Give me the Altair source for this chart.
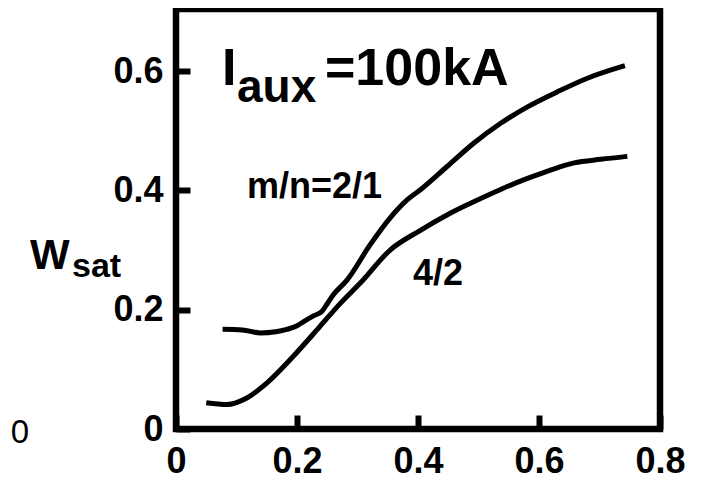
import altair as alt
import pandas as pd

# --- data ---
x_21 = [0.077, 0.110, 0.139, 0.165, 0.183, 0.200, 0.211, 0.228, 0.241, 0.250, 0.260,
        0.283, 0.321, 0.354, 0.382, 0.404, 0.448, 0.492, 0.536, 0.581, 0.630, 0.680, 0.742]
y_21 = [0.167, 0.166, 0.161, 0.163, 0.167, 0.173, 0.180, 0.190, 0.197, 0.210, 0.225,
        0.250, 0.309, 0.354, 0.384, 0.401, 0.440, 0.479, 0.512, 0.540, 0.565, 0.588, 0.609]

x_42 = [0.050, 0.084, 0.117, 0.150, 0.194, 0.238, 0.272, 0.305, 0.354, 0.404, 0.454,
        0.503, 0.542, 0.581, 0.619, 0.658, 0.702, 0.746]
y_42 = [0.044, 0.041, 0.052, 0.077, 0.122, 0.172, 0.211, 0.245, 0.300, 0.333, 0.362,
        0.386, 0.404, 0.420, 0.434, 0.446, 0.452, 0.457]

x_ticks = [0, 0.2, 0.4, 0.6, 0.8]
y_ticks = [0, 0.2, 0.4, 0.6]
x_domain = [0, 0.8]
y_domain = [0, 0.704]

W, H = 484, 420
FONT = "Liberation Sans"

df = pd.concat([
    pd.DataFrame({"x": x_21, "y": y_21, "series": "2/1"}),
    pd.DataFrame({"x": x_42, "y": y_42, "series": "4/2"}),
])

label_expr = "datum.value == 0 ? '0' : format(datum.value, '.1f')"

axis_common = dict(
    domain=False, grid=False, ticks=True, tickSize=14, tickWidth=6,
    tickColor="black", offset=-14, labelFont=FONT, labelFontSize=36,
    labelFontWeight="bold", labelColor="black", labelOverlap=False,
    labelFlush=False, labelExpr=label_expr, title=None,
)

lines = alt.Chart(df).mark_line(color="black", strokeWidth=5, interpolate="monotone").encode(
    x=alt.X("x:Q", scale=alt.Scale(domain=x_domain, nice=False, zero=False),
            axis=alt.Axis(values=x_ticks, labelPadding=15, **axis_common)),
    y=alt.Y("y:Q", scale=alt.Scale(domain=y_domain, nice=False, zero=False),
            axis=alt.Axis(values=y_ticks, labelPadding=13, **axis_common)),
    detail="series:N",
)


def annot(text, x, y, size, weight="bold", align="left"):
    return alt.Chart(pd.DataFrame({"t": [text]})).mark_text(
        font=FONT, fontSize=size, fontWeight=weight, align=align,
        baseline="alphabetic", color="black",
    ).encode(x=alt.value(x), y=alt.value(y), text="t:N")


layers = [
    lines,
    annot("W", -146, 260, 42),
    annot("sat", -104, 268, 34),
    annot("I", 46, 76, 52),
    annot("aux", 61, 93, 46),
    annot("=100kA", 149, 76, 52),
    annot("m/n=2/1", 71, 189, 36),
    annot("4/2", 237, 276, 36),
    annot("0", -147, 434, 33, weight="normal", align="right"),
]

chart = alt.layer(*layers).properties(
    width=W, height=H,
    autosize=alt.AutoSizeParams(type="none"),
    padding={"left": 168, "top": 1, "right": 30, "bottom": 70},
).configure_view(stroke="black", strokeWidth=6.5)

chart.save("out.html", embed_options={"renderer": "svg", "actions": False})
